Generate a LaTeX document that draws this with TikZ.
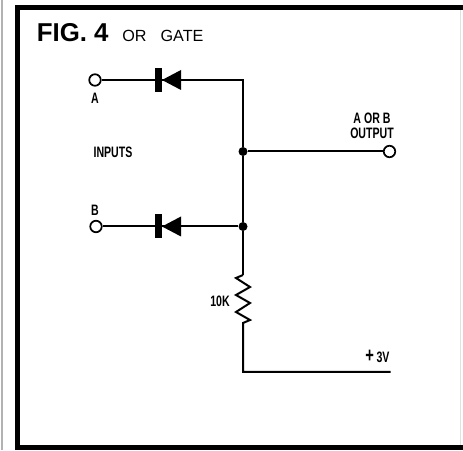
\documentclass[tikz,border=0pt]{standalone}
\usepackage{fontspec}
\setmainfont{Liberation Sans}
\newfontfamily\tagfont[FakeStretch=0.7]{Liberation Sans}
\usetikzlibrary{calc}
\tikzset{
	wire/.style={line width=0.4mm},
	hole/.style={circle, draw, line width=0.35mm, fill=white, minimum size=0.23cm, inner sep=0},
	dot/.style={circle, fill=black, minimum size=0.18cm, inner sep=0},
	tag/.style={inner sep=0, font=\tagfont\bfseries\fontsize{8.6}{8.5}\selectfont, align=center}
}
\def\diode(#1){\fill ($(#1)+(0.04, 0)$) -- ($(#1)+(0.42, 0.2)$) -- ($(#1)+(0.42, -0.2)$) -- cycle;
	\fill ($(#1)+(-0.1, -0.24)$) rectangle ($(#1)+(0.04, 0.24)$);}

\begin{document}
\begin{tikzpicture}
	\useasboundingbox (0, 0) rectangle (9.26, 9);
	%%%%% FRAME %%%%%
	\fill[white] (0, 0) rectangle (9.26, 9);
	\draw[line width=0.5mm, color=black!30] (0.04, 0) -- (0.04, 9);
	\draw[line width=0.2mm, color=black!12] (9.21, 0.1) -- (9.21, 8.8);
	\draw[line width=1mm] (0.35, 0.05) -- (0.35, 8.85) -- (9.26, 8.85);
	\fill (0.3, 0) rectangle (9.26, 0.1);
	\node[anchor=base west, inner sep=0, font=\bfseries\fontsize{14.7}{14.7}\selectfont] (title) at (0.73, 8.17) {FIG. 4};
	\node[anchor=base west, inner sep=0, font=\fontsize{9.2}{9.2}\selectfont] (gate) at (2.44, 8.17) {OR\hspace{8pt}GATE};

	%%%%% CIRCUIT %%%%%
	\node[hole] (inA) at (1.9, 7.4) {};
	\node[hole] (inB) at (1.92, 4.47) {};
	\node[hole] (out) at (7.79, 5.97) {};
	\coordinate (dioA) at (3.2, 7.4);
	\coordinate (dioB) at (3.2, 4.47);
	\coordinate (cornerA) at (4.86, 7.4);
	\node[dot] (juncOut) at (4.86, 5.97) {};
	\node[dot] (juncB) at (4.86, 4.47) {};
	\coordinate (resTop) at (4.86, 3.5);
	\coordinate (resBot) at (4.86, 2.54);
	\coordinate (corner) at (4.86, 1.56);
	\coordinate (rail) at (7.81, 1.56);

	\draw[wire] (inA) -- (dioA) -- (cornerA) -- (juncOut) -- (juncB) -- (resTop);
	\draw[wire] (inB) -- (dioB) -- (juncB);
	\draw[wire] (juncOut) -- (out);
	\draw[wire] (resTop) -- (4.72, 3.44) -- (5, 3.26) -- (4.72, 3.1) -- (5, 2.94) -- (4.72, 2.76) -- (5, 2.6) -- (resBot) -- (corner) -- (rail);
	\diode(dioA)
	\diode(dioB)

	%%%%% LABELS %%%%%
	\node[tag] (labA) at (1.9, 7.04) {A};
	\node[tag] (labB) at (1.9, 4.8) {B};
	\node[tag] (labIn) at (2.26, 5.96) {INPUTS};
	\node[tag] (labOut) at (7.44, 6.49) {A OR B\\OUTPUT};
	\node[tag] (labRes) at (4.4, 2.98) {10K};
	\node[tag] (labV) at (7.55, 1.88) {{\fontsize{12}{12}\selectfont +}\,3V};
\end{tikzpicture}
\end{document}
